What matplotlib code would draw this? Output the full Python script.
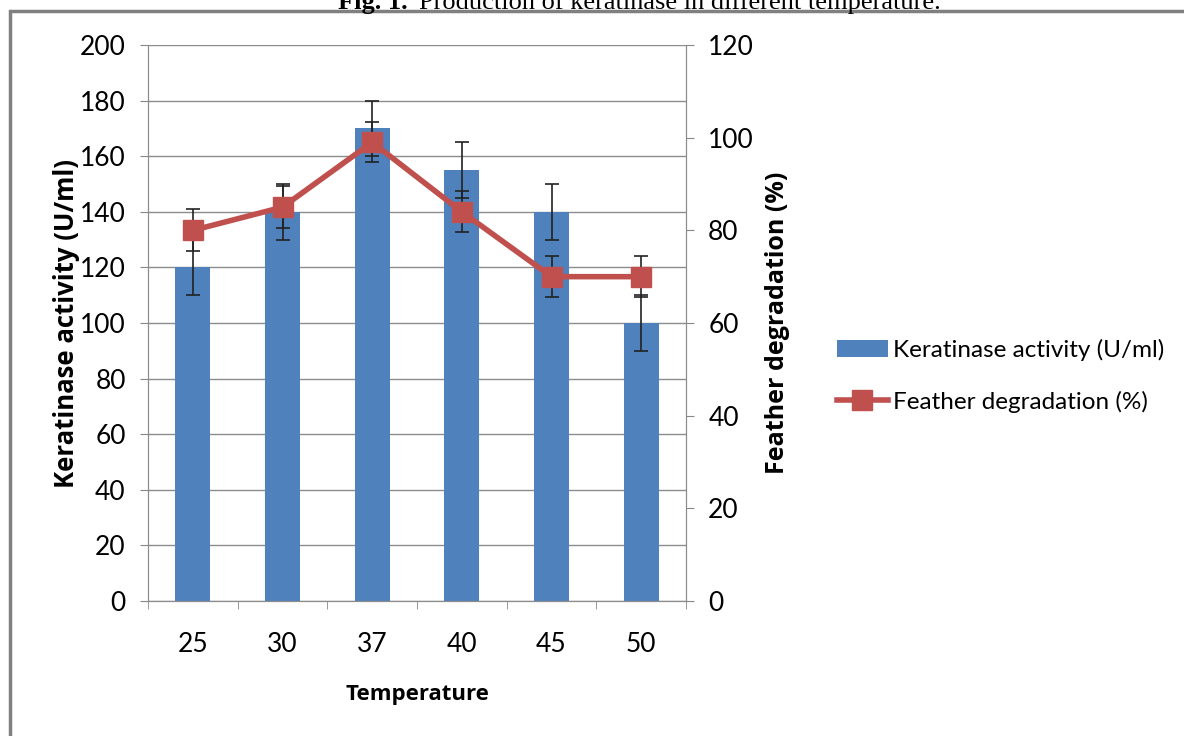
import matplotlib
matplotlib.use("Agg")
import matplotlib.pyplot as plt
import numpy as np
from matplotlib.patches import Rectangle

# data
temps = ["25", "30", "37", "40", "45", "50"]
activity = [120, 140, 170, 155, 140, 100]
activity_err = [10, 10, 10, 10, 10, 10]
degradation = [80, 85, 99, 84, 70, 70]
degradation_err = [4.5, 4.5, 4.3, 4.4, 4.4, 4.4]

plt.rcParams['font.family'] = ['Lato', 'DejaVu Sans']

fig = plt.figure(figsize=(11.84, 7.36), dpi=100)
ax = fig.add_axes([148/1184, 1-601/736, 538/1184, 556/736])
ax2 = ax.twinx()

blue = "#4f81bd"
red = "#c0504d"
x = np.arange(len(temps))
lab_font = ['Open Sans', 'DejaVu Sans']

ax.bar(x, activity, width=0.39, color=blue, zorder=2, label="Keratinase activity (U/ml)")
ax.errorbar(x, activity, yerr=activity_err, fmt="none", ecolor="#222222",
            elinewidth=1.2, capsize=5, capthick=1.2, zorder=3)
ax.set_ylim(0, 200)
ax.set_yticks(range(0, 201, 20))
ax.set_xlim(-0.5, len(temps)-0.5)
ax.set_xticks(x)
ax.set_xticklabels(temps)
ax.set_xticks(np.arange(-0.5, len(temps), 1), minor=True)
ax.tick_params(axis='x', which='major', length=0, pad=22, labelsize=19)
ax.tick_params(axis='x', which='minor', length=6, color="#888888", direction='out')
ax.tick_params(axis='y', length=6, color="#888888", labelsize=19, pad=10)
ax.grid(axis='y', color="#8c8c8c", linewidth=1.0, zorder=0)
ax.set_axisbelow(True)
ax.spines["top"].set_visible(False)
for s in ["left", "right", "bottom"]:
    ax.spines[s].set_color("#8c8c8c")
ax.set_ylabel("Keratinase activity (U/ml)", fontsize=18.5, fontweight='bold',
              family=lab_font, labelpad=0)
ax.set_xlabel("Temperature", fontsize=16, fontweight='bold',
              family=lab_font, labelpad=20)

ax2.errorbar(x, degradation, yerr=degradation_err, fmt="none", ecolor="#222222",
             elinewidth=1.2, capsize=5, capthick=1.2, zorder=3)
ax2.plot(x, degradation, color=red, linewidth=4, marker='s', markersize=15,
         zorder=4, label="Feather degradation (%)")
ax2.set_ylim(0, 120)
ax2.set_yticks(range(0, 121, 20))
ax2.tick_params(axis='y', length=6, color="#888888", labelsize=19, pad=10)
ax2.spines["top"].set_visible(False)
for s in ["left", "right", "bottom"]:
    ax2.spines[s].set_color("#8c8c8c")
ax2.set_ylabel("Feather degradation (%)", fontsize=18, fontweight='bold',
               family=lab_font, labelpad=8)

h1, l1 = ax.get_legend_handles_labels()
h2, l2 = ax2.get_legend_handles_labels()
fig.legend(h1+h2, l1+l2, loc='center left', bbox_to_anchor=(815/1184, 1-376/736),
           frameon=False, fontsize=17.5, handlelength=2.1, labelspacing=1.2,
           handletextpad=0.2)

# outer frame and cut-off caption
fig.patches.append(Rectangle((10/1184, -0.1), 1.2, 1-11/736+0.1, transform=fig.transFigure,
                             fill=False, edgecolor="#808080", linewidth=2.5))
serif = ['Liberation Serif', 'DejaVu Serif']
fig.text(408/1184, 1-9/736, "Fig. 1.", ha='right', va='baseline', fontsize=19,
         fontweight='bold', family=serif)
fig.text(419/1184, 1-9/736, "Production of keratinase in different temperature.",
         ha='left', va='baseline', fontsize=19, family=serif)

fig.savefig("out.png", dpi=100)
